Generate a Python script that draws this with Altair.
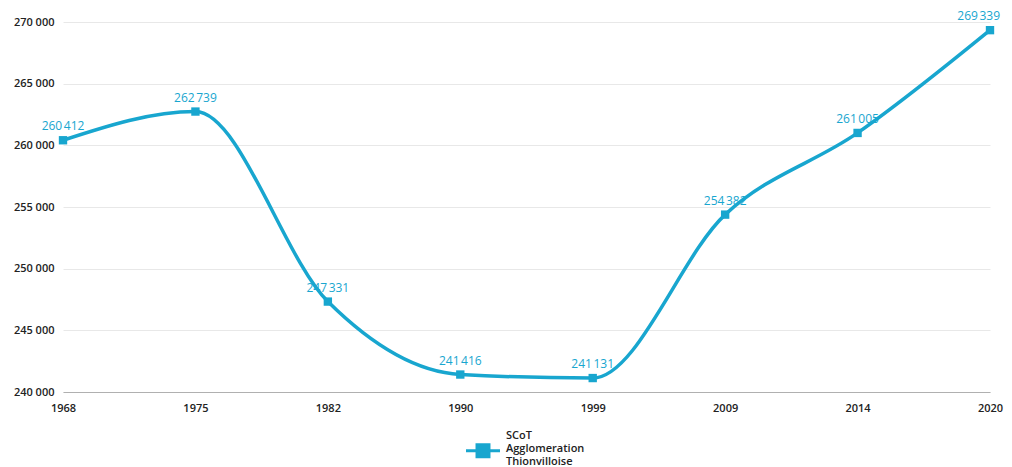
import altair as alt
import pandas as pd

years = ["1968", "1975", "1982", "1990", "1999", "2009", "2014", "2020"]
population = [260412, 262739, 247331, 241416, 241131, 254382, 261005, 269339]
series_name = "SCoT Agglomeration Thionvilloise"
y_ticks = [240000, 245000, 250000, 255000, 260000, 265000, 270000]

df = pd.DataFrame({"year": years, "pop": population, "series": [series_name] * len(years)})

LINE = "#18a6cf"
FONT = "Open Sans"

base = alt.Chart(df).transform_calculate(
    label="replace(format(datum.pop, ','), ',', '\u202f')"
)

x = alt.X("year:O", sort=years, scale=alt.Scale(type="point", padding=0),
          axis=alt.Axis(title=None, labelAngle=0, ticks=False, domain=True,
                        domainColor="#b0b0b0", domainWidth=1.2, labelPadding=10,
                        labelFont=FONT, labelFontSize=11, labelColor="#222222",
                        labelFontWeight=600, grid=False))
y = alt.Y("pop:Q", scale=alt.Scale(domain=[240000, 270000], nice=False, zero=False),
          axis=alt.Axis(title=None, values=y_ticks, ticks=False, domain=False,
                        labelPadding=9, labelFont=FONT, labelFontSize=11,
                        labelColor="#222222", labelFontWeight=600,
                        gridColor="#e8e8e8", gridWidth=1,
                        labelExpr="replace(format(datum.value, ','), ',', ' ')"))

# symbol drawn lower (about one label line, r = 17) so that it sits at the middle label line
sym = ("M-1,0.78L1,0.78L1,0.96L-1,0.96Z "
       "M-0.44,0.43L0.44,0.43L0.44,1.31L-0.44,1.31Z")

color = alt.Color("series:N", scale=alt.Scale(range=[LINE]),
                  legend=alt.Legend(title=None, orient="none", legendX=403, legendY=397,
                                    symbolType=sym,
                                    symbolSize=1156, symbolStrokeWidth=0,
                                    symbolFillColor=LINE, labelOffset=6,
                                    labelFont=FONT, labelFontSize=11, labelColor="#222222",
                                    labelFontWeight=600, labelLimit=200, padding=0,
                                    labelExpr="split(datum.label, ' ')"))

line = base.mark_line(interpolate="monotone", strokeWidth=3.5).encode(x=x, y=y, color=color)
points = base.mark_square(size=70, opacity=1, filled=True).encode(x=x, y=y, color=color)

labels = base.transform_filter(alt.datum.year != "2020").mark_text(
    baseline="alphabetic", dy=-10, font=FONT, fontSize=12, fontWeight=500, color=LINE
).encode(x=x, y=y, text="label:N")
last_label = base.transform_filter(alt.datum.year == "2020").mark_text(
    baseline="alphabetic", align="right", dx=10, dy=-10, font=FONT, fontSize=12,
    fontWeight=500, color=LINE
).encode(x=x, y=y, text="label:N")

chart = alt.layer(line, points, labels, last_label).properties(
    width=927, height=370,
    background="white",
    autosize=alt.AutoSizeParams(type="none"),
    padding={"left": 55, "top": 14, "right": 14, "bottom": 75},
).configure_view(strokeWidth=0, stroke="transparent")

chart.save("out.html", embed_options={"renderer": "svg", "actions": False})
